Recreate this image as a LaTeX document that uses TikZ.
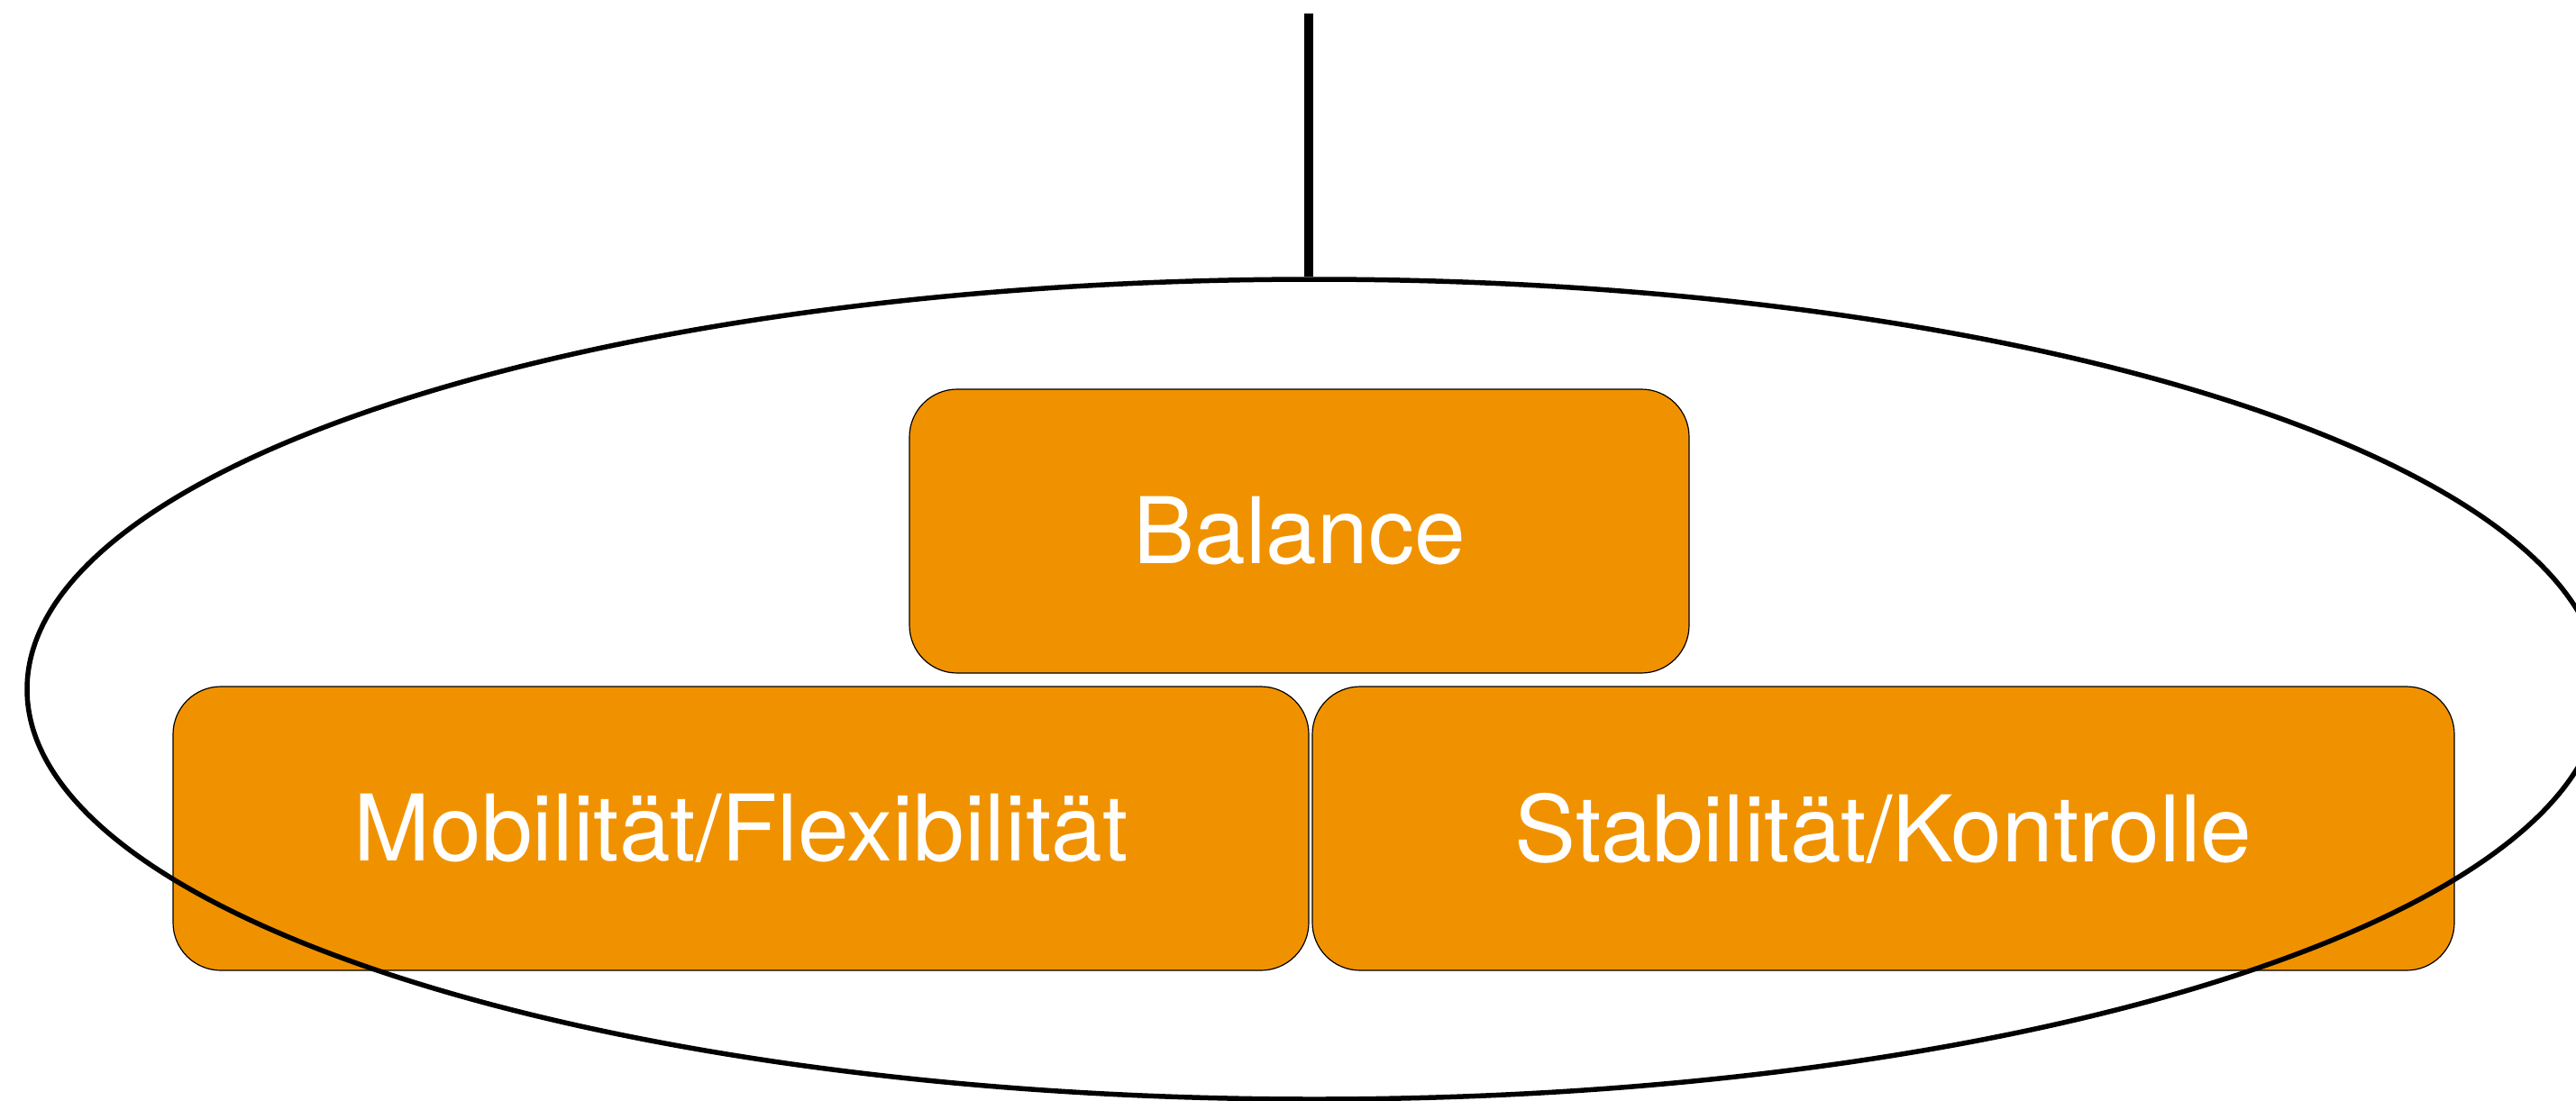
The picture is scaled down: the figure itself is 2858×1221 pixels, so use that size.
\documentclass[tikz,border=0pt]{standalone}
\usepackage{fontspec}
\setmainfont{TeX Gyre Heros}
\usetikzlibrary{shapes.geometric}
\definecolor{boxorange}{RGB}{240,146,0}
\tikzset{
  orangebox/.style={draw=black, line width=1.2pt, fill=boxorange, rounded corners=53pt,
    minimum height=315pt, inner sep=0pt, text=white,
    font=\fontsize{102}{120}\selectfont},
  ring/.style={draw=black, line width=5.5pt, ellipse, inner sep=0pt},
  stem/.style={draw=black, line width=10pt}
}
\begin{document}
\begin{tikzpicture}[x=1pt,y=-1pt]
\useasboundingbox (0,0) rectangle (2858,1221);
\clip (0,0) rectangle (2858,1221);
\node[orangebox, minimum width=865pt] (bal) at (1441.5,589.5) {Balance};
\node[orangebox, minimum width=1260pt] (mob) at (822,919.5) {Mobilität/Flexibilität};
\node[orangebox, minimum width=1267pt] (sta) at (2089.5,919.5) {Stabilität/Kontrolle};
\node[ring, minimum width=2856pt, minimum height=910pt] (ell) at (1458,765) {};
\coordinate (top) at (1452,15);
\draw[stem] (top) -- (top |- ell.north);
\end{tikzpicture}
\end{document}
